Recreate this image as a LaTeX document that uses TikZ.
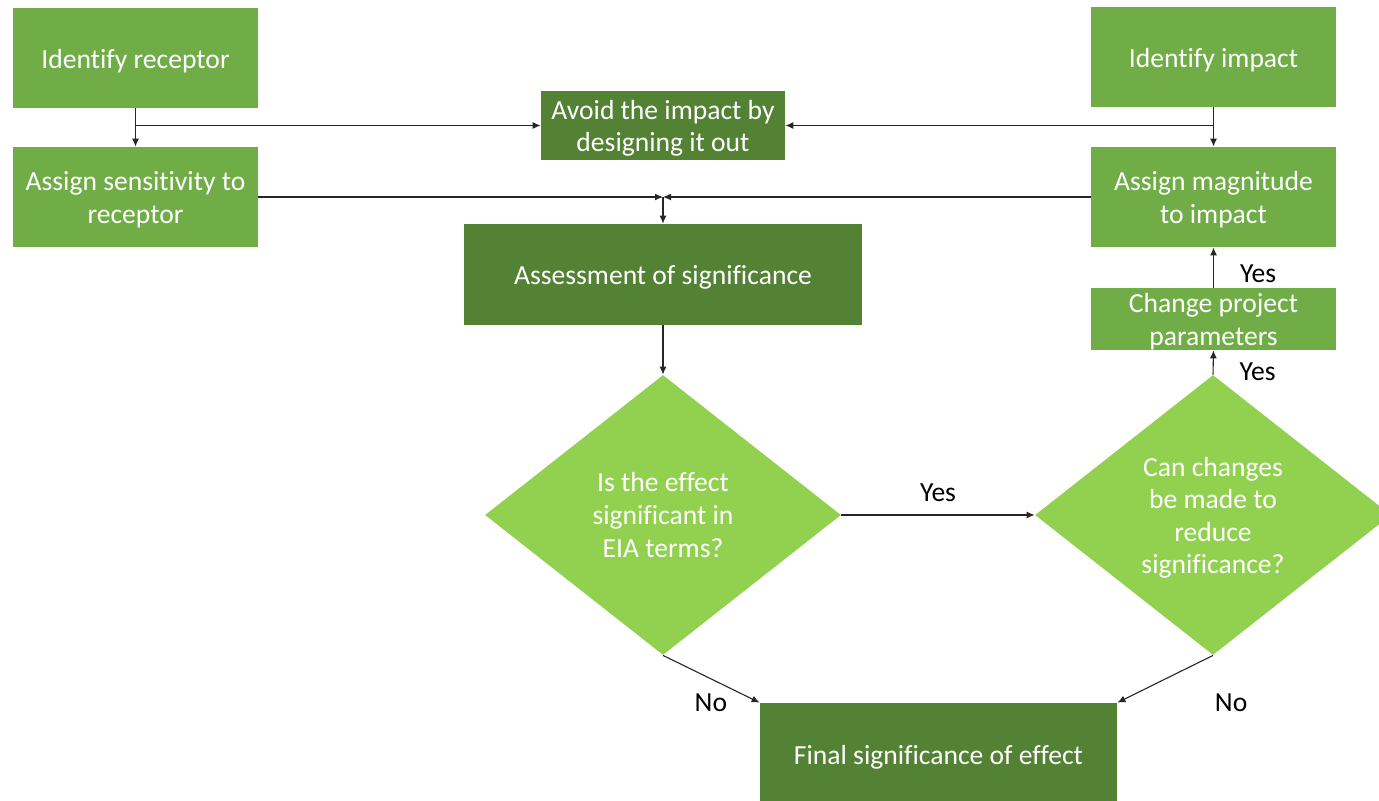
\documentclass[tikz,border=0pt]{standalone}
\usepackage{fontspec}
\setmainfont{Carlito}[Ligatures=NoCommon]
\usetikzlibrary{shapes.geometric,arrows.meta}
\definecolor{lg}{HTML}{70AD47}
\definecolor{dg}{HTML}{548235}
\definecolor{dm}{HTML}{92D050}
\newcommand{\lowerstrut}{\rule{0pt}{\dimexpr\fontcharht\font`\d+2.8pt\relax}}
\begin{document}
\begin{tikzpicture}[x=0.5pt,y=-0.5pt,
  font=\fontsize{13.8}{16.3}\selectfont,
  box/.style={rectangle, draw=none, text=white, align=center, inner sep=0pt},
  lbox/.style={box, fill=lg},
  dbox/.style={box, fill=dg},
  dia/.style={diamond, aspect=1.27, fill=dm, text=white, align=center, inner sep=0pt,
    minimum width=178pt, minimum height=140pt},
  conn/.style={draw=black!85, line width=0.55pt, -{Latex[length=4pt,width=3.5pt]}},
  lbl/.style={text=black, inner sep=0pt}]
\useasboundingbox (0,0) rectangle (1379,800);
\clip (0,0) rectangle (1379,800);
\node[lbox, minimum width=122.5pt, minimum height=50pt] (ir) at (135.5,58) {\lowerstrut Identify receptor};
\node[lbox, minimum width=122.5pt, minimum height=50pt] (as) at (135.5,197) {\lowerstrut Assign sensitivity to\\receptor};
\node[lbox, minimum width=122.5pt, minimum height=50pt] (ii) at (1213.5,57) {\lowerstrut Identify impact};
\node[lbox, minimum width=122.5pt, minimum height=50pt] (ma) at (1213.5,197) {\lowerstrut Assign magnitude\\to impact};
\node[lbox, minimum width=122.5pt, minimum height=30pt] (cp) at (1213.5,319) {\lowerstrut Change project\\parameters};
\node[dbox, minimum width=122pt, minimum height=34.5pt] (av) at (663,125.5) {\lowerstrut Avoid the impact by\\designing it out};
\node[dbox, minimum width=199pt, minimum height=50.5pt] (ass) at (663,274.5) {\lowerstrut Assessment of significance};
\node[dia] (d1) at (663,515) {Is the effect\\significant in\\EIA terms?};
\node[dia] (d2) at (1213,515) {\lowerstrut Can changes\\be made to\\reduce\\significance?};
\node[dbox, minimum width=178.5pt, minimum height=51pt] (fin) at (938.5,754) {\lowerstrut Final significance of effect};
% connectors
\coordinate (jl) at (ir.south |- av.west);
\coordinate (jr) at (ii.south |- av.east);
\coordinate (jm) at (ass.north |- as.east);
\draw[conn] (ir) -- (as);
\draw[conn] (ii) -- (ma);
\draw[conn] (jl) -- (av.west);
\draw[conn] (jr) -- (av.east);
\draw[conn] (as.east) -- (jm);
\draw[conn] (ma.west) -- (jm);
\draw[conn] (jm) -- (ass.north);
\draw[conn] (ass) -- (d1);
\draw[conn] (d1.east) -- node[lbl, above=6.5pt] (y1) {Yes} (d2.west);
\draw[conn] (d2.north) -- node[lbl, pos=0.1, right=13pt] (y2) {Yes} (cp.south);
\draw[conn] (cp.north) -- node[lbl, pos=0.35, right=13pt] (y3) {Yes} (ma.south);
\draw[conn] (d1.south) -- (fin.north west) node[lbl, left=16pt] (n1) {No};
\draw[conn] (d2.south) -- (fin.north east) node[lbl, right=48.5pt] (n2) {No};
\end{tikzpicture}
\end{document}
